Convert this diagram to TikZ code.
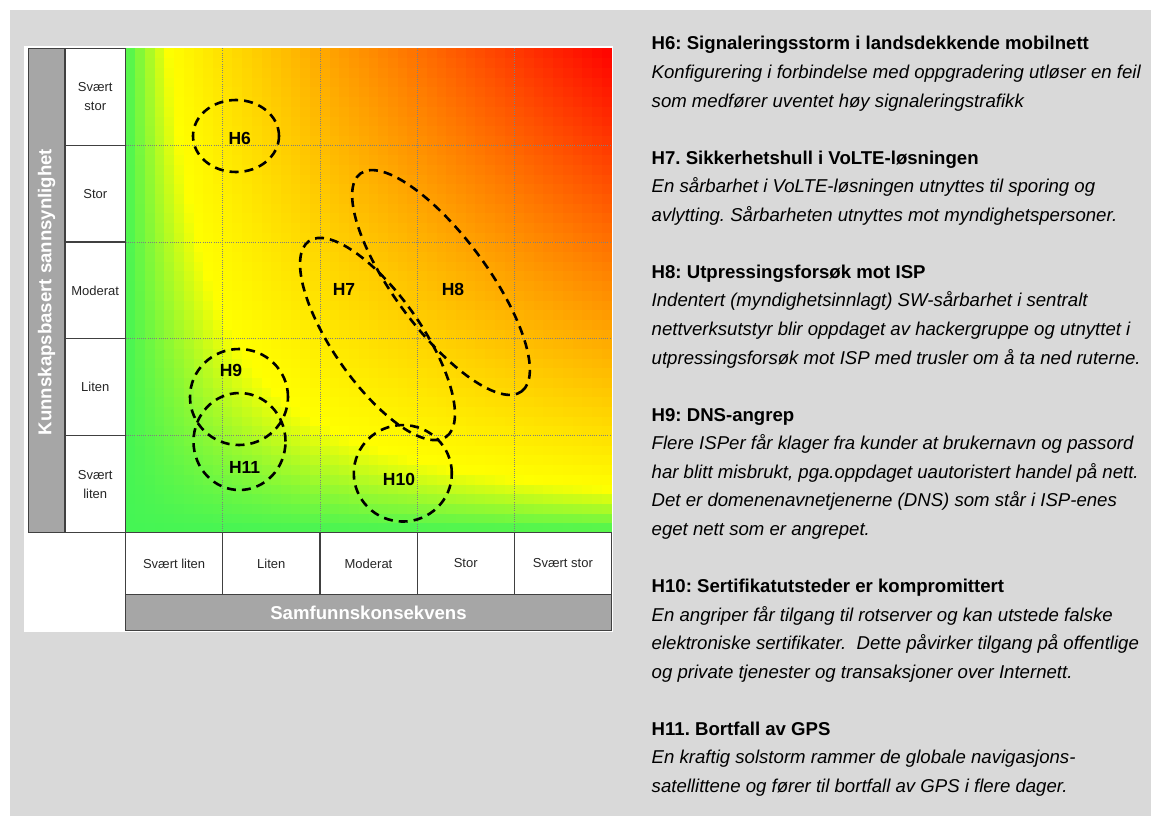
\documentclass[tikz,border=0pt]{standalone}
\usepackage{fontspec}
\setmainfont{Liberation Sans}
\usetikzlibrary{shapes.geometric}
\definecolor{bgc}{HTML}{D9D9D9}
\definecolor{barc}{HTML}{A6A6A6}
\definecolor{edgec}{HTML}{404040}
\definecolor{gridc}{HTML}{808080}
\frenchspacing
\begin{document}
\begin{tikzpicture}[x=1pt,y=-1pt,
  cell/.style={draw=edgec, line width=1.2pt, fill=white, inner sep=0pt, align=center,
    font=\fontsize{13}{19}\selectfont, text=black!85},
  barbox/.style={draw=edgec, line width=1.2pt, fill=barc, inner sep=0pt},
  barlabel/.style={text=white, inner sep=0pt, font=\bfseries\fontsize{18.6}{20}\selectfont},
  gridline/.style={draw=gridc, line width=0.8pt, dash pattern=on 1pt off 1.2pt},
  hazard/.style={ellipse, draw=black, line width=2.6pt, dash pattern=on 9pt off 6pt, inner sep=0pt},
  hlabel/.style={inner sep=0pt, font=\bfseries\fontsize{17.5}{18}\selectfont},
  htitle/.style={anchor=base west, inner sep=0pt, font=\bfseries\fontsize{18.6}{22}\selectfont},
  hbody/.style={anchor=base west, inner sep=0pt, font=\itshape\fontsize{18.6}{22}\selectfont}
]
\useasboundingbox (0,0) rectangle (1151,816);
\fill[white] (0,0) rectangle (1151,816);
\fill[bgc] (10,10) rectangle (1151,816);
\fill[white] (24,46.5) rectangle (613,632);

% heat map
\foreach \i in {0,...,49}{
  \foreach \j in {0,...,49}{
    \pgfmathsetmacro\tt{(\i+0.5)*(\j+0.5)/2500}
    \pgfmathsetmacro\hr{\tt<0.09 ? min(1,0.27+0.73*\tt/0.09) : 1}
    \pgfmathsetmacro\hg{\tt<0.09 ? min(1,0.96+0.04*\tt/0.09) : max(0,min(1,1-(\tt-0.09)/0.91))}
    \pgfmathsetmacro\hb{\tt<0.09 ? max(0,0.33*(1-\tt/0.09)) : 0}
    \definecolor{hm}{rgb}{\hr,\hg,\hb}
    \fill[hm] ({125.5+\i*9.72},{532.5-(\j+1)*9.684}) rectangle ++(10.1,10.1);
  }
}

% grid
\foreach \k in {1,...,4}{
  \draw[gridline] ({125.5+97.2*\k},48.3) -- ({125.5+97.2*\k},532.5);
  \draw[gridline] (125.5,{48.3+96.84*\k}) -- (611.5,{48.3+96.84*\k});
}

% vertical axis
\node[barbox, minimum width=36.5pt, minimum height=484.2pt] (ybar) at (46.75,290.4) {};
\node[barlabel, rotate=90] (ylab) at (46.5,292) {Kunnskapsbasert sannsynlighet};
\node[cell, minimum width=60.5pt, minimum height=96.84pt] (r5) at (95.25,96.72) {Svært\\stor};
\node[cell, minimum width=60.5pt, minimum height=96.84pt] (r4) at (95.25,193.56) {Stor};
\node[cell, minimum width=60.5pt, minimum height=96.84pt] (r3) at (95.25,290.4) {Moderat};
\node[cell, minimum width=60.5pt, minimum height=96.84pt] (r2) at (95.25,387.24) {Liten};
\node[cell, minimum width=60.5pt, minimum height=96.84pt] (r1) at (95.25,484.08) {Svært\\liten};

% horizontal axis
\node[cell, minimum width=97.2pt, minimum height=61.8pt] (c1) at (174.1,563.4) {Svært liten};
\node[cell, minimum width=97.2pt, minimum height=61.8pt] (c2) at (271.3,563.4) {Liten};
\node[cell, minimum width=97.2pt, minimum height=61.8pt] (c3) at (368.5,563.4) {Moderat};
\node[cell, minimum width=97.2pt, minimum height=61.8pt] (c4) at (465.7,563.4) {Stor};
\node[cell, minimum width=97.2pt, minimum height=61.8pt] (c5) at (562.9,563.4) {Svært stor};
\node[barbox, minimum width=486pt, minimum height=36.2pt] (xbar) at (368.5,612.4) {};
\node[barlabel] (xlab) at (368.5,612.4) {Samfunnskonsekvens};

% hazards
\node[hazard, minimum width=86pt, minimum height=72pt] (e6) at (236,136) {};
\node[hazard, minimum width=239pt, minimum height=88pt, rotate=-55] (e7) at (377.5,339) {};
\node[hazard, minimum width=271pt, minimum height=93pt, rotate=-53.5] (e8) at (441,282.5) {};
\node[hazard, minimum width=98pt, minimum height=96pt] (e9) at (239,397) {};
\node[hazard, minimum width=98pt, minimum height=96.5pt] (e10) at (402.8,473.3) {};
\node[hazard, minimum width=92pt, minimum height=97pt] (e11) at (239.5,441.5) {};
\node[hlabel] (l6) at (239.7,138) {H6};
\node[hlabel] (l7) at (344,289.5) {H7};
\node[hlabel] (l8) at (453,289.5) {H8};
\node[hlabel] (l9) at (231,370) {H9};
\node[hlabel] (l10) at (399,479.5) {H10};
\node[hlabel] (l11) at (244.6,467) {H11};

% descriptions
\node[htitle] (t6) at (651.5,50) {H6: Signaleringsstorm i landsdekkende mobilnett};
\node[hbody] (t6a) at (651.5,78.55) {Konfigurering i forbindelse med oppgradering utløser en feil};
\node[hbody] (t6b) at (651.5,107.1) {som medfører uventet høy signaleringstrafikk};
\node[htitle] (t7) at (651.5,164.2) {H7. Sikkerhetshull i VoLTE-løsningen};
\node[hbody] (t7a) at (651.5,192.75) {En sårbarhet i VoLTE-løsningen utnyttes til sporing og};
\node[hbody] (t7b) at (651.5,221.3) {avlytting. Sårbarheten utnyttes mot myndighetspersoner.};
\node[htitle] (t8) at (651.5,278.4) {H8: Utpressingsforsøk mot ISP};
\node[hbody] (t8a) at (651.5,306.95) {Indentert (myndighetsinnlagt) SW-sårbarhet i sentralt};
\node[hbody] (t8b) at (651.5,335.5) {nettverksutstyr blir oppdaget av hackergruppe og utnyttet i};
\node[hbody] (t8c) at (651.5,364.05) {utpressingsforsøk mot ISP med trusler om å ta ned ruterne.};
\node[htitle] (t9) at (651.5,421.15) {H9: DNS-angrep};
\node[hbody] (t9a) at (651.5,449.7) {Flere ISPer får klager fra kunder at brukernavn og passord};
\node[hbody] (t9b) at (651.5,478.25) {har blitt misbrukt, pga.oppdaget uautoristert handel på nett.};
\node[hbody] (t9c) at (651.5,506.8) {Det er domenenavnetjenerne (DNS) som står i ISP-enes};
\node[hbody] (t9d) at (651.5,535.35) {eget nett som er angrepet.};
\node[htitle] (t10) at (651.5,592.45) {H10: Sertifikatutsteder er kompromittert};
\node[hbody] (t10a) at (651.5,621) {En angriper får tilgang til rotserver og kan utstede falske};
\node[hbody] (t10b) at (651.5,649.55) {elektroniske sertifikater.\ \ Dette påvirker tilgang på offentlige};
\node[hbody] (t10c) at (651.5,678.1) {og private tjenester og transaksjoner over Internett.};
\node[htitle] (t11) at (651.5,735.2) {H11. Bortfall av GPS};
\node[hbody] (t11a) at (651.5,763.75) {En kraftig solstorm rammer de globale navigasjons-};
\node[hbody] (t11b) at (651.5,792.3) {satellittene og fører til bortfall av GPS i flere dager.};
\end{tikzpicture}
\end{document}
